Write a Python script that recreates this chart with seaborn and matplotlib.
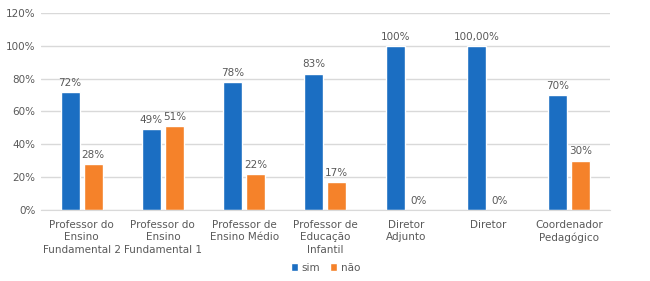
import pandas as pd
import matplotlib
matplotlib.use("Agg")
import matplotlib.pyplot as plt
import seaborn as sns

# Data
categories = [
    "Professor do\nEnsino\nFundamental 2",
    "Professor do\nEnsino\nFundamental 1",
    "Professor de\nEnsino Médio",
    "Professor de\nEducação\nInfantil",
    "Diretor\nAdjunto",
    "Diretor",
    "Coordenador\nPedagógico",
]
sim = [0.72, 0.49, 0.78, 0.83, 1.00, 1.00, 0.70]
nao = [0.28, 0.51, 0.22, 0.17, 0.00, 0.00, 0.30]
sim_labels = ["72%", "49%", "78%", "83%", "100%", "100,00%", "70%"]
nao_labels = ["28%", "51%", "22%", "17%", "0%", "0%", "30%"]

df = pd.DataFrame({
    "cat": categories * 2,
    "valor": sim + nao,
    "grupo": ["sim"] * len(sim) + ["não"] * len(nao),
})

sns.set_style("white")
plt.rcParams['font.family'] = ['DejaVu Sans']
text_color = "#595959"

fig = plt.figure(figsize=(6.5, 2.81), dpi=100)
ax = fig.add_axes([0.063, 0.253, 0.875, 0.701])

sns.barplot(
    data=df, x="cat", y="valor", hue="grupo",
    palette={"sim": "#1b6ec2", "não": "#f5822a"}, saturation=1,
    width=0.566, gap=0.17, ax=ax, legend=True,
)

# value labels
for cont, labels in zip(ax.containers, [sim_labels, nao_labels]):
    ax.bar_label(cont, labels=labels, padding=3, fontsize=7.5, color=text_color)

ax.set_ylim(0, 1.2)
ax.set_yticks([0, 0.2, 0.4, 0.6, 0.8, 1.0, 1.2])
ax.set_yticklabels(["0%", "20%", "40%", "60%", "80%", "100%", "120%"])
ax.yaxis.grid(True, color="#d9d9d9", linewidth=1)
ax.set_axisbelow(True)
ax.set_xlabel("")
ax.set_ylabel("")
ax.set_xlim(-0.5, len(categories) - 0.5)
ax.tick_params(axis="both", length=0, labelsize=7.5, colors=text_color, pad=4)
ax.tick_params(axis="x", pad=7)
for lbl in ax.get_xticklabels():
    lbl.set_linespacing(1.35)
for s in ["top", "right", "left"]:
    ax.spines[s].set_visible(False)
ax.spines["bottom"].set_color("#d9d9d9")

leg = ax.legend(
    loc="upper center", bbox_to_anchor=(0.5, -0.22), ncol=2, frameon=False,
    fontsize=7.5, handlelength=0.7, handleheight=0.7, handletextpad=0.3,
    columnspacing=1.0,
)
for t in leg.get_texts():
    t.set_color(text_color)

fig.savefig("out.png", dpi=100)
